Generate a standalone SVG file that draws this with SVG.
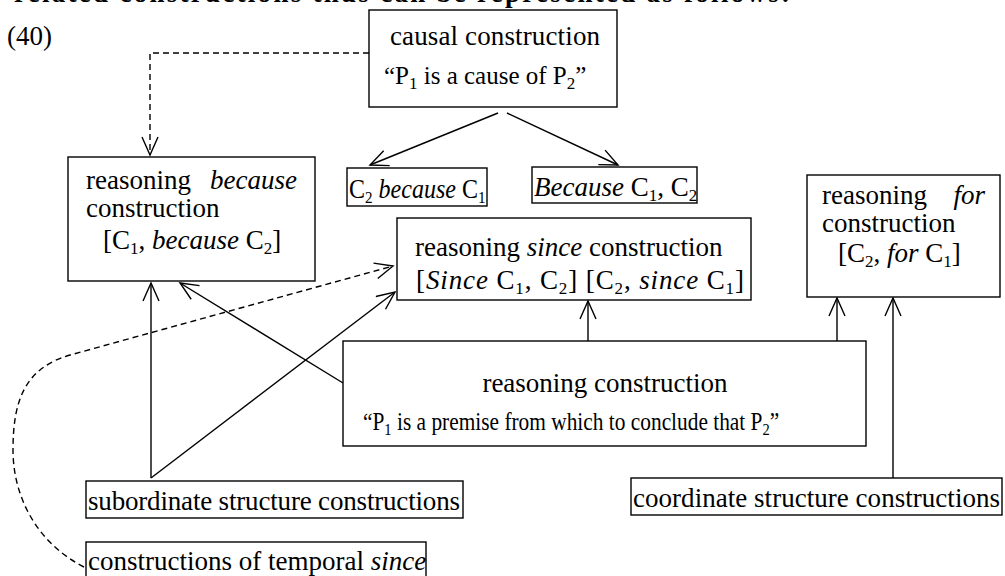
<svg xmlns="http://www.w3.org/2000/svg" width="1005" height="576" viewBox="0 0 1005 576">
<style>
text{font-family:"Liberation Serif","Times New Roman",serif;font-size:27px;fill:#000}
.q{font-size:25px}
.i{font-style:italic}
.box{fill:#fff;stroke:#000;stroke-width:1.4}
.c{fill:none;stroke:#000;stroke-width:1.4}
.d{stroke-dasharray:6 4}
.s{font-size:17px}
</style>
<defs>
<marker id="ah" markerUnits="userSpaceOnUse" markerWidth="22" markerHeight="20" viewBox="0 0 22 20" refX="19" refY="9" orient="auto">
<path d="M1,1 L19,9 L1,17" fill="none" stroke="#000" stroke-width="1.4"/>
</marker>
</defs>
<text x="14" y="2" font-weight="bold" textLength="776">related constructions thus can be represented as follows:</text>
<text x="7" y="45">(40)</text>
<g id="connectors">
<path class="c d" d="M369,53 H150 V155" marker-end="url(#ah)"/>
<path class="c" d="M498,113 L370,165" marker-end="url(#ah)"/>
<path class="c" d="M507,113 L618,165" marker-end="url(#ah)"/>
<path class="c" d="M588,341 V301" marker-end="url(#ah)"/>
<path class="c" d="M837,341 V298" marker-end="url(#ah)"/>
<path class="c" d="M343,383 L180,283" marker-end="url(#ah)"/>
<path class="c" d="M151,478 V283" marker-end="url(#ah)"/>
<path class="c" d="M151,478 L395,292" marker-end="url(#ah)"/>
<path class="c" d="M893,478 V298" marker-end="url(#ah)"/>
<path class="c d" d="M84,567 C40,545 13,500 13,450 C13,400 25,368 70,355 L393,266" marker-end="url(#ah)"/>
</g>
<g id="causal">
<rect class="box" x="369" y="10" width="248" height="97"/>
<text x="390" y="45" textLength="210">causal  construction</text>
<text class="q" x="384" y="84">“P<tspan class="s" dy="5">1</tspan><tspan dy="-5"> is a cause of P</tspan><tspan class="s" dy="5">2</tspan><tspan dy="-5">”</tspan></text>
</g>
<g id="c2because">
<rect class="box" x="347" y="168" width="140" height="38"/>
<text transform="translate(349,198) scale(0.89,1)">C<tspan class="s" dy="5">2</tspan><tspan dy="-5"> </tspan><tspan class="i">because</tspan> C<tspan class="s" dy="5">1</tspan></text>
</g>
<g id="becausec1">
<rect class="box" x="532" y="167" width="165" height="36"/>
<text x="534" y="196"><tspan class="i">Because</tspan> C<tspan class="s" dy="5">1</tspan><tspan dy="-5">, C</tspan><tspan class="s" dy="5">2</tspan></text>
</g>
<g id="reasoning-because">
<rect class="box" x="68" y="157" width="247" height="124"/>
<text x="86" y="189">reasoning</text>
<text x="297" y="189" text-anchor="end" class="i">because</text>
<text x="86" y="217">construction</text>
<text x="103" y="249">[C<tspan class="s" dy="5">1</tspan><tspan dy="-5">, </tspan><tspan class="i">because</tspan> C<tspan class="s" dy="5">2</tspan><tspan dy="-5">]</tspan></text>
</g>
<g id="reasoning-since">
<rect class="box" x="397" y="218" width="354" height="82"/>
<text x="415" y="256">reasoning <tspan class="i">since</tspan> construction</text>
<text x="416" y="289" textLength="328">[<tspan class="i">Since</tspan> C<tspan class="s" dy="5">1</tspan><tspan dy="-5">, C</tspan><tspan class="s" dy="5">2</tspan><tspan dy="-5">] [C</tspan><tspan class="s" dy="5">2</tspan><tspan dy="-5">, </tspan><tspan class="i">since</tspan> C<tspan class="s" dy="5">1</tspan><tspan dy="-5">]</tspan></text>
</g>
<g id="reasoning-for">
<rect class="box" x="807" y="175" width="193" height="122"/>
<text x="822" y="204">reasoning</text>
<text x="985" y="204" text-anchor="end" class="i">for</text>
<text x="822" y="232">construction</text>
<text x="838" y="262">[C<tspan class="s" dy="5">2</tspan><tspan dy="-5">, </tspan><tspan class="i">for</tspan> C<tspan class="s" dy="5">1</tspan><tspan dy="-5">]</tspan></text>
</g>
<g id="reasoning">
<rect class="box" x="343" y="341" width="523" height="105"/>
<text x="605" y="392" text-anchor="middle">reasoning construction</text>
<text class="q" transform="translate(363,430) scale(0.855,1)">“P<tspan class="s" dy="5">1</tspan><tspan dy="-5"> is a premise from which to conclude that P</tspan><tspan class="s" dy="5">2</tspan><tspan dy="-5">”</tspan></text>
</g>
<g id="subordinate">
<rect class="box" x="86" y="481" width="377" height="37"/>
<text x="88" y="510" textLength="372">subordinate structure constructions</text>
</g>
<g id="coordinate">
<rect class="box" x="631" y="478" width="371" height="37"/>
<text x="633" y="507" textLength="367">coordinate structure constructions</text>
</g>
<g id="temporal">
<rect class="box" x="86" y="542" width="340" height="40"/>
<text x="88" y="570">constructions of temporal <tspan class="i">since</tspan></text>
</g>
</svg>
